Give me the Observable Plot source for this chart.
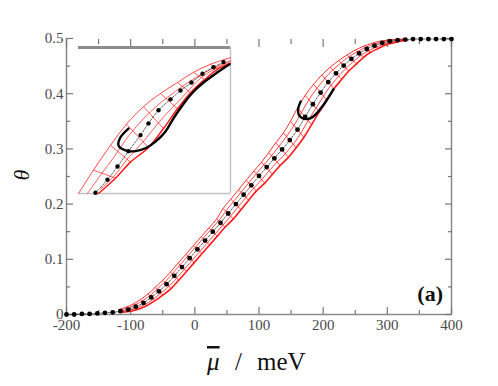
<!DOCTYPE html>
<html><head><meta charset="utf-8">
<script src="https://cdn.jsdelivr.net/npm/d3@7"></script>
<script src="https://cdn.jsdelivr.net/npm/@observablehq/plot@0.6"></script>
<style>body{margin:0;background:#fff}#wrap{position:relative;width:498px;height:386px;background:#fff}</style>
</head><body><div id="wrap"></div>
<script>
// ---- main curve (black dots) ----
const mu = [-200,-188,-176,-164,-152,-140,-128,-116,-104,-92,-80,-68,-56,-44,-32,-20,-8,4,16,28,40,52,64,76,88,100,112,124,136,148,160,172,184,196,208,220,232,244,256,268,280,292,304,316,328,340,352,364,376,388,400];
const theta = [0.000,0.000,0.001,0.001,0.002,0.003,0.004,0.006,0.009,0.014,0.021,0.031,0.042,0.055,0.070,0.086,0.102,0.118,0.134,0.150,0.166,0.183,0.200,0.217,0.234,0.251,0.267,0.283,0.299,0.316,0.335,0.358,0.381,0.402,0.421,0.437,0.451,0.463,0.473,0.481,0.487,0.492,0.495,0.497,0.498,0.499,0.499,0.499,0.499,0.499,0.499];
// ---- red band (main) ----
const bandMu = [-116,-104,-92,-80,-68,-56,-44,-32,-20,-8,4,16,28,40,52,64,76,88,100,112,124,136,148,160,172,184,196,208,220,232,244,256,268,280,292,304,316,328];
const upperMu = [-119,-108,-96,-85,-73,-62,-50,-38,-26,-14,-2,10,22,34,44,56,68,80,92,104,115,126,138,149,160,172,185,198,211,224,237,250,263,275,288,300,313,325];
const upperTh = [0.009,0.013,0.019,0.027,0.037,0.049,0.062,0.077,0.093,0.109,0.125,0.141,0.157,0.173,0.192,0.209,0.226,0.243,0.260,0.276,0.293,0.311,0.329,0.350,0.374,0.397,0.417,0.434,0.448,0.460,0.470,0.479,0.486,0.491,0.495,0.497,0.498,0.499];
const lowerMu = [-113,-100,-87,-75,-62,-50,-37,-25,-13,-1,11,23,35,47,60,72,84,96,109,121,133,146,158,170,182,194,206,217,229,240,252,263,274,286,297,309,320,332];
const lowerTh = [0.004,0.006,0.010,0.016,0.025,0.035,0.047,0.062,0.078,0.094,0.110,0.126,0.142,0.158,0.173,0.190,0.207,0.224,0.238,0.254,0.270,0.285,0.302,0.321,0.344,0.367,0.388,0.409,0.426,0.441,0.454,0.466,0.475,0.482,0.488,0.492,0.495,0.497];
const innerUpTh = [0.008,0.012,0.018,0.026,0.036,0.049,0.062,0.078,0.094,0.110,0.126,0.142,0.158,0.174,0.193,0.210,0.227,0.244,0.261,0.277,0.294,0.312,0.331,0.353,0.378,0.400,0.418,0.435,0.448,0.460,0.470,0.478,0.485,0.490,0.494,0.497,0.498,0.499];
const innerLowTh = [0.005,0.007,0.011,0.017,0.025,0.036,0.047,0.061,0.077,0.093,0.109,0.125,0.141,0.157,0.173,0.190,0.207,0.224,0.239,0.255,0.271,0.285,0.301,0.319,0.342,0.365,0.387,0.409,0.426,0.442,0.455,0.467,0.476,0.483,0.489,0.493,0.496,0.497];
// ---- hysteresis loop (main) ----
const loopMu = [165,161,162,167,175,184,192,200,208,216];
const loopTh = [0.386,0.373,0.362,0.356,0.354,0.358,0.367,0.379,0.393,0.408];
// ---- ticks ----
const xMajor = [-200,-100,0,100,200,300,400];
const xTickLabels = ["-200","-100","0","100","200","300","400"];
const xMinor = [-150,-50,50,150,250,350];
const yMajor = [0,0.1,0.2,0.3,0.4,0.5];
const yTickLabels = ["0","0.1","0.2","0.3","0.4","0.5"];
const yMinor = [0.05,0.15,0.25,0.35,0.45];
// ---- inset ----
const insetDotMu = [137,149,159,170,182,190,200,212,222,233,244,255,265];
const insetDotTh = [0.271,0.289,0.307,0.328,0.350,0.366,0.384,0.399,0.411,0.422,0.434,0.443,0.450];
const insetUpMu = [120,135,152,168,185,202,219,235,252,272];
const insetUpTh = [0.270,0.302,0.336,0.365,0.389,0.407,0.422,0.436,0.447,0.456];
const insetLowMu = [140,157,172,190,205,219,232,246,260,272];
const insetLowTh = [0.270,0.291,0.313,0.333,0.359,0.386,0.408,0.426,0.441,0.448];
const insetInUpMu = [129,142,155,169,184,200,217,234,252,272];
const insetInUpTh = [0.270,0.295,0.319,0.347,0.371,0.392,0.410,0.426,0.440,0.452];
const insetInLowMu = [142,155,170,186,200,214,228,242,257,272];
const insetInLowTh = [0.276,0.293,0.319,0.343,0.367,0.388,0.408,0.428,0.441,0.451];
const insetLoopMu = [170,162,160,167,177,187,197,207,215,224,234,245,259,271];
const insetLoopTh = [0.359,0.347,0.336,0.329,0.328,0.332,0.341,0.355,0.373,0.391,0.408,0.422,0.436,0.447];
const insetDomainX = [120,272];
const insetDomainY = [0.27,0.47];

const idx = a => a.map((_, i) => i);
const RED = "#ff1a1a";
const AX = "#8a8a8a";
const SERIF = "'Liberation Serif', 'Times New Roman', serif";
const tickOpts = {stroke: "#777", strokeWidth: 1.2, fill: "none", label: null};

const main = Plot.plot({
  width: 498, height: 386,
  marginLeft: 66, marginRight: 47, marginTop: 38, marginBottom: 72,
  x: {domain: [-200, 400], label: null},
  y: {domain: [0, 0.5], label: null},
  style: {fontFamily: SERIF, fontSize: "15px", background: "white", overflow: "visible"},
  marks: [
    Plot.ruleX([-200, 400], {stroke: AX, strokeWidth: 1.5}),
    Plot.ruleY([0], {stroke: AX, strokeWidth: 1.5}),
    Plot.axisY(yMajor, {anchor: "left", tickSize: -7, ...tickOpts}),
    Plot.axisY(yMinor, {anchor: "left", tickSize: -4, ...tickOpts}),
    Plot.axisY(yMajor, {anchor: "right", tickSize: -7, ...tickOpts}),
    Plot.axisY(yMinor, {anchor: "right", tickSize: -4, ...tickOpts}),
    Plot.axisX(xMajor, {anchor: "bottom", tickSize: -7, ...tickOpts}),
    Plot.axisX(xMinor, {anchor: "bottom", tickSize: -4, ...tickOpts}),
    Plot.axisX(xMajor, {anchor: "top", tickSize: -8, ...tickOpts}),
    Plot.axisX(xMinor, {anchor: "top", tickSize: -5, ...tickOpts}),
    Plot.axisY(yMajor, {anchor: "left", tickSize: 0, tickPadding: 3, fill: "#4a4a4a", label: null,
      tickFormat: d => yTickLabels[yMajor.indexOf(d)]}),
    Plot.axisX(xMajor, {anchor: "bottom", tickSize: 0, tickPadding: 5, fill: "#4a4a4a", label: null,
      tickFormat: d => xTickLabels[xMajor.indexOf(d)]}),
    // red band
    Plot.link(idx(bandMu), {x1: i => upperMu[i], y1: i => upperTh[i], x2: i => lowerMu[i], y2: i => lowerTh[i], stroke: RED, strokeWidth: 0.8}),
    Plot.line(idx(upperMu), {x: i => upperMu[i], y: i => upperTh[i], stroke: RED, strokeWidth: 0.9, curve: "catmull-rom"}),
    Plot.line(idx(bandMu), {x: i => bandMu[i], y: i => innerUpTh[i], stroke: RED, strokeWidth: 0.8, curve: "catmull-rom"}),
    Plot.line(idx(bandMu), {x: i => bandMu[i], y: i => innerLowTh[i], stroke: RED, strokeWidth: 0.8, curve: "catmull-rom"}),
    Plot.line(idx(lowerMu), {x: i => lowerMu[i], y: i => lowerTh[i], stroke: RED, strokeWidth: 1.6, curve: "catmull-rom"}),
    // main dotted line and dots
    Plot.line(idx(mu), {x: i => mu[i], y: i => theta[i], stroke: "#333", strokeWidth: 0.8, strokeDasharray: "2,1.5", curve: "catmull-rom"}),
    Plot.dot(idx(mu), {x: i => mu[i], y: i => theta[i], r: 2.4, fill: "black"}),
    // hysteresis loop
    Plot.line(idx(loopMu), {x: i => loopMu[i], y: i => loopTh[i], stroke: "black", strokeWidth: 2.4, curve: "catmull-rom"})
  ]
});

const svg = d3.select(main);
svg.append("text").attr("transform", "translate(29,175) rotate(-90)").attr("text-anchor", "middle")
  .attr("font-family", SERIF).attr("font-style", "italic").attr("font-size", 22).attr("fill", "#111").text("θ");
svg.append("text").attr("x", 207).attr("y", 370).attr("text-anchor", "start").attr("font-family", SERIF).attr("font-style", "italic")
  .attr("font-size", 25).attr("fill", "#111").style("text-decoration", "overline").text("μ");
svg.append("text").attr("x", 235).attr("y", 370).attr("text-anchor", "start").attr("font-family", SERIF)
  .attr("font-size", 25).attr("fill", "#111").text("/");
svg.append("text").attr("x", 257).attr("y", 370).attr("text-anchor", "start").attr("font-family", SERIF)
  .attr("font-size", 25).attr("fill", "#111").text("meV");
svg.append("text").attr("x", 443).attr("y", 301).attr("text-anchor", "end").attr("font-family", SERIF)
  .attr("font-weight", "bold").attr("font-size", 22).attr("fill", "#111").text("(a)");

const inset = Plot.plot({
  width: 152, height: 146, margin: 0,
  x: {domain: insetDomainX, axis: null},
  y: {domain: insetDomainY, axis: null},
  style: {background: "white", overflow: "visible"},
  marks: [
    Plot.ruleY([insetDomainY[0]], {stroke: "#c4c4c4", strokeWidth: 1.5}),
    Plot.ruleX([insetDomainX[1]], {stroke: "#c4c4c4", strokeWidth: 1.5}),
    Plot.link(idx(insetUpMu).slice(1, 9), {x1: i => insetUpMu[i], y1: i => insetUpTh[i], x2: i => insetLowMu[i], y2: i => insetLowTh[i], stroke: RED, strokeWidth: 0.7}),
    Plot.line(idx(insetUpMu), {x: i => insetUpMu[i], y: i => insetUpTh[i], stroke: RED, strokeWidth: 0.8, curve: "catmull-rom"}),
    Plot.line(idx(insetInUpMu), {x: i => insetInUpMu[i], y: i => insetInUpTh[i], stroke: RED, strokeWidth: 0.7, curve: "catmull-rom"}),
    Plot.line(idx(insetInLowMu), {x: i => insetInLowMu[i], y: i => insetInLowTh[i], stroke: RED, strokeWidth: 0.7, curve: "catmull-rom"}),
    Plot.line(idx(insetLowMu), {x: i => insetLowMu[i], y: i => insetLowTh[i], stroke: RED, strokeWidth: 1.5, curve: "catmull-rom"}),
    Plot.line(idx(insetDotMu), {x: i => insetDotMu[i], y: i => insetDotTh[i], stroke: "#333", strokeWidth: 0.8, strokeDasharray: "2,1.5", curve: "catmull-rom"}),
    Plot.dot(idx(insetDotMu), {x: i => insetDotMu[i], y: i => insetDotTh[i], r: 2.2, fill: "black"}),
    Plot.line(idx(insetLoopMu), {x: i => insetLoopMu[i], y: i => insetLoopTh[i], stroke: "black", strokeWidth: 2.4, curve: "catmull-rom"}),
    Plot.ruleY([insetDomainY[1]], {stroke: "#8c8c8c", strokeWidth: 3})
  ]
});
inset.style.position = "absolute";
inset.style.left = "78px";
inset.style.top = "47px";

const wrap = document.getElementById("wrap");
main.style.position = "absolute";
main.style.left = "0px";
main.style.top = "0px";
wrap.appendChild(main);
wrap.appendChild(inset);
</script></body></html>
